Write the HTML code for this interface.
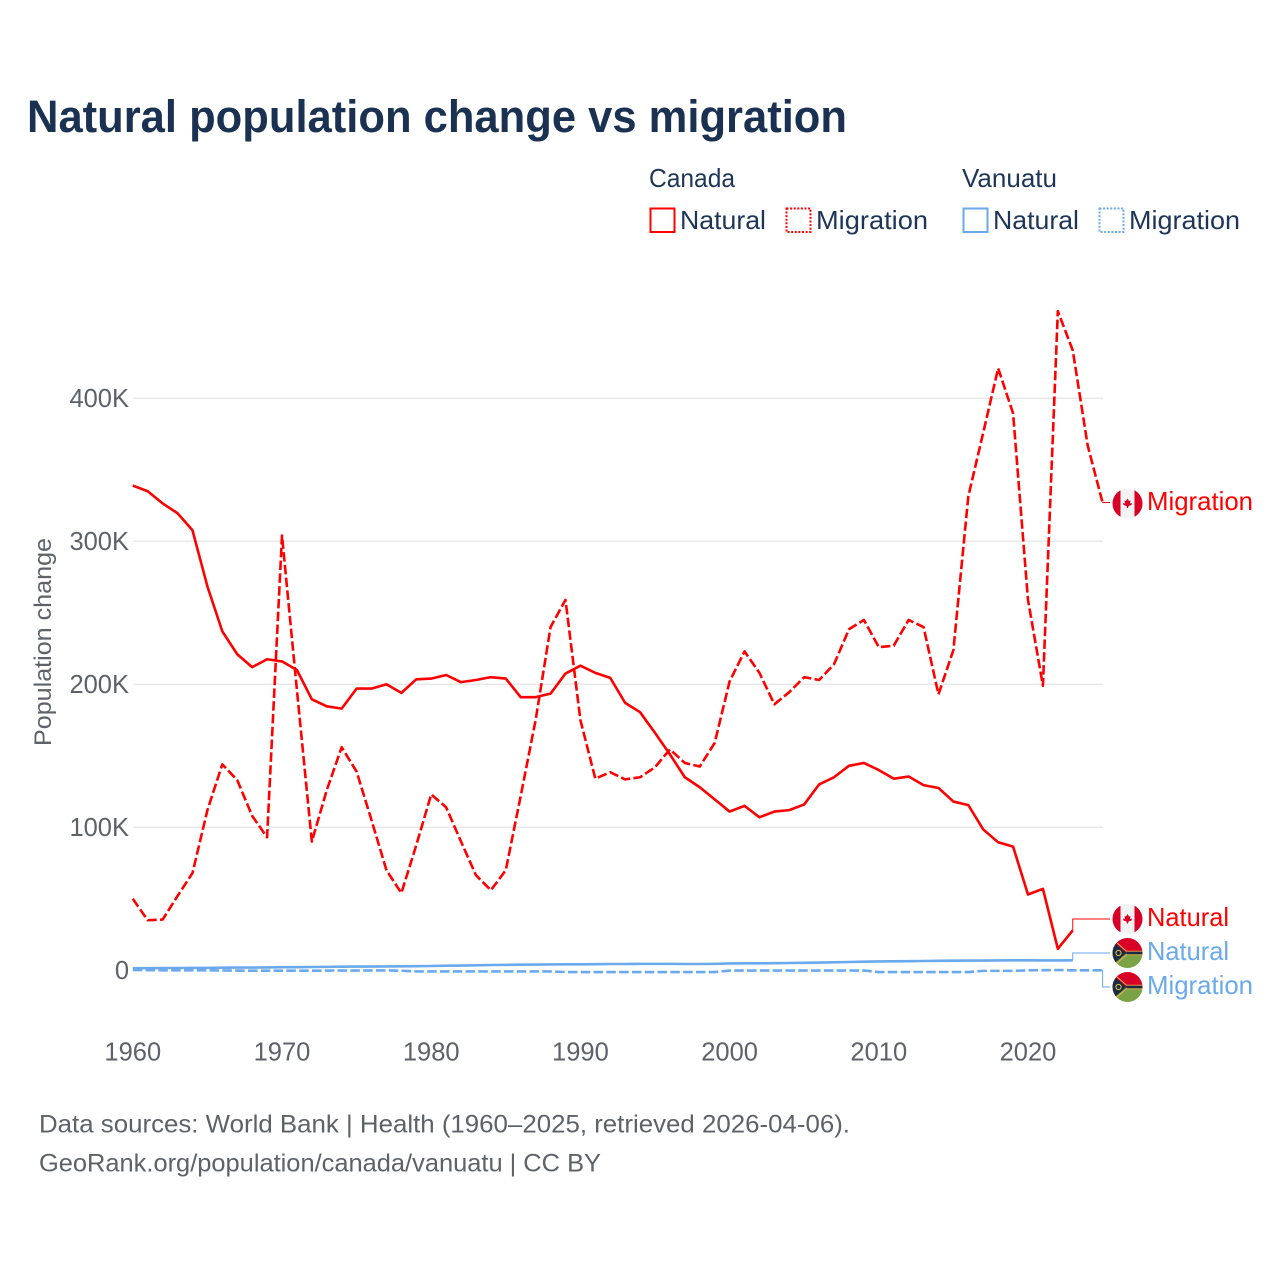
<!DOCTYPE html>
<html lang="en">
<head>
<meta charset="utf-8">
<title>Natural population change vs migration</title>
<style>
html,body{margin:0;padding:0;background:#fff;width:1280px;height:1280px;overflow:hidden}
svg{display:block}
text{font-family:"Liberation Sans",sans-serif}
</style>
</head>
<body>
<svg id="chart" xmlns="http://www.w3.org/2000/svg" width="1280" height="1280" viewBox="0 0 1280 1280">
  <defs>
    <clipPath id="flag-clip"><circle cx="0" cy="0" r="15"/></clipPath>
  </defs>
  <rect width="1280" height="1280" fill="#fff"/>
  <text x="27" y="132" font-size="45" font-weight="700" fill="#1a3152" textLength="820" lengthAdjust="spacingAndGlyphs">Natural population change vs migration</text>

  <g fill="#1d3557" font-size="26">
    <text x="649" y="187" textLength="86" lengthAdjust="spacingAndGlyphs">Canada</text>
    <text x="962" y="187" textLength="95" lengthAdjust="spacingAndGlyphs">Vanuatu</text>
    <rect x="650.5" y="208.5" width="24" height="23.5" fill="none" stroke="#ff0000" stroke-width="2"/>
    <text x="680" y="229" textLength="86" lengthAdjust="spacingAndGlyphs">Natural</text>
    <rect x="786.5" y="208.5" width="24" height="23.5" fill="none" stroke="#ff0000" stroke-width="2" stroke-dasharray="2 1.6"/>
    <text x="816" y="229" textLength="112" lengthAdjust="spacingAndGlyphs">Migration</text>
    <rect x="963.5" y="208.5" width="24" height="23.5" fill="none" stroke="#6aa9ec" stroke-width="2"/>
    <text x="993" y="229" textLength="86" lengthAdjust="spacingAndGlyphs">Natural</text>
    <rect x="1099.5" y="208.5" width="24" height="23.5" fill="none" stroke="#6aa9ec" stroke-width="2" stroke-dasharray="2 1.6"/>
    <text x="1129" y="229" textLength="111" lengthAdjust="spacingAndGlyphs">Migration</text>
  </g>

  <g id="grid"></g>
  <g id="y-ticks"></g>
  <g id="x-ticks"></g>
  <text transform="translate(51 746) rotate(-90)" font-size="24" fill="#5e6268" textLength="208" lengthAdjust="spacingAndGlyphs">Population change</text>
  <g id="series"></g>
  <g id="connectors"></g>

  <g transform="translate(1127.5 503.5)" clip-path="url(#flag-clip)">
    <rect x="-15" y="-15" width="30" height="30" fill="#f3f3f3"/><rect x="-15" y="-15" width="8" height="30" fill="#d80027"/><rect x="7" y="-15" width="8" height="30" fill="#d80027"/>
    <polygon points="0,-5 1.5,-2.5 3,-3 2.5,0 4.5,-0.5 4,1.5 1,2.5 0.5,4.5 -0.5,4.5 -1,2.5 -4,1.5 -4.5,-0.5 -2.5,0 -3,-3 -1.5,-2.5" fill="#d80027"/>
  </g>
  <g transform="translate(1127.5 919)" clip-path="url(#flag-clip)">
    <rect x="-15" y="-15" width="30" height="30" fill="#f3f3f3"/><rect x="-15" y="-15" width="8" height="30" fill="#d80027"/><rect x="7" y="-15" width="8" height="30" fill="#d80027"/>
    <polygon points="0,-5 1.5,-2.5 3,-3 2.5,0 4.5,-0.5 4,1.5 1,2.5 0.5,4.5 -0.5,4.5 -1,2.5 -4,1.5 -4.5,-0.5 -2.5,0 -3,-3 -1.5,-2.5" fill="#d80027"/>
  </g>
  <g transform="translate(1127.5 953)" clip-path="url(#flag-clip)">
    <rect x="-15" y="-15" width="30" height="15" fill="#d80027"/><rect x="-15" y="0" width="30" height="15" fill="#7aa346"/>
    <polygon points="-15,-12 -1,0 -15,12" fill="#1c2b44"/>
    <path d="M-15,-14 L-1,-1.8 L15,-1.8 M-15,14 L-1,1.8 L15,1.8" fill="none" stroke="#e8b04a" stroke-width="1"/>
    <rect x="-1" y="-1.3" width="16" height="2.6" fill="#1c2b44"/>
    <circle cx="-9" cy="0" r="2.6" fill="none" stroke="#e8c23a" stroke-width="1"/>
  </g>
  <g transform="translate(1127.5 987)" clip-path="url(#flag-clip)">
    <rect x="-15" y="-15" width="30" height="15" fill="#d80027"/><rect x="-15" y="0" width="30" height="15" fill="#7aa346"/>
    <polygon points="-15,-12 -1,0 -15,12" fill="#1c2b44"/>
    <path d="M-15,-14 L-1,-1.8 L15,-1.8 M-15,14 L-1,1.8 L15,1.8" fill="none" stroke="#e8b04a" stroke-width="1"/>
    <rect x="-1" y="-1.3" width="16" height="2.6" fill="#1c2b44"/>
    <circle cx="-9" cy="0" r="2.6" fill="none" stroke="#e8c23a" stroke-width="1"/>
  </g>

  <g font-size="26">
    <text x="1147" y="510" fill="#ff0000" textLength="106" lengthAdjust="spacingAndGlyphs">Migration</text>
    <text x="1147" y="926" fill="#ff0000" textLength="82" lengthAdjust="spacingAndGlyphs">Natural</text>
    <text x="1147" y="960" fill="#6aa9ec" textLength="82" lengthAdjust="spacingAndGlyphs">Natural</text>
    <text x="1147" y="994" fill="#6aa9ec" textLength="106" lengthAdjust="spacingAndGlyphs">Migration</text>
  </g>

  <g font-size="25" fill="#5e6268">
    <text x="39" y="1132.5" textLength="811" lengthAdjust="spacingAndGlyphs">Data sources: World Bank | Health (1960–2025, retrieved 2026-04-06).</text>
    <text x="39" y="1171.5" textLength="562" lengthAdjust="spacingAndGlyphs">GeoRank.org/population/canada/vanuatu | CC BY</text>
  </g>
</svg>
<script>
// Values in thousands, one per year starting at firstYear
const firstYear = 1960;
const yTickValues = [0, 100, 200, 300, 400];
const yTickLabels = ['0', '100K', '200K', '300K', '400K'];
const xTickYears = [1960, 1970, 1980, 1990, 2000, 2010, 2020];
const canadaNatural = [339,335,326.5,319.6,307.7,268.5,237,221,212,217.5,216,210,189.5,184.6,183,197,197,200,194,203.5,204,206.5,201.5,203,205,204,191,191,193.5,207.5,213,208,204.5,187,180.5,166,151,135,128,119.5,111,115,107,111,112,116,130,135,143,145,140,134,135.5,129.5,127.5,118,115.5,98.5,89.5,86.5,53,57,15,28];
const canadaMigration = [50,35,35.5,52,68,112,144,133,108,93,304,196,90,126,156,139,105,70,54,87.5,123,114,90,66.5,56,70,122,175,240,259,175,134,138.5,133.5,135,142,154.5,145,142.5,159,202,223,208,186,194.5,205,203,214,238.5,245,226,227,245,240,193,224,331.5,376,421,389.5,259,199,461,433.5,367,327];
const vanuatuNatural = [1.5,1.5,1.6,1.6,1.7,1.7,1.8,1.9,1.9,2.0,2.2,2.2,2.3,2.4,2.5,2.6,2.6,2.7,2.8,2.9,3.0,3.2,3.3,3.5,3.7,3.8,3.9,4.0,4.1,4.2,4.2,4.3,4.4,4.4,4.5,4.5,4.5,4.4,4.4,4.5,4.8,4.9,4.9,5.0,5.1,5.2,5.4,5.6,5.8,6.0,6.2,6.3,6.4,6.5,6.6,6.7,6.8,6.8,6.9,7.0,7.0,6.9,6.9,7.0];
const vanuatuMigration = [0.2,0.1,0,0,0,0,-0.1,-0.2,-0.3,-0.3,-0.3,-0.3,-0.3,-0.2,-0.2,-0.2,-0.1,-0.1,-0.3,-0.8,-0.8,-0.8,-0.8,-0.8,-0.8,-0.8,-0.8,-0.8,-0.8,-1.2,-1.2,-1.2,-1.2,-1.2,-1.2,-1.2,-1.2,-1.2,-1.2,-1.2,-0.2,-0.2,-0.2,-0.2,-0.2,-0.2,-0.2,-0.2,-0.2,-0.2,-1.2,-1.2,-1.2,-1.2,-1.2,-1.2,-1.2,-0.4,-0.4,-0.4,0,0.1,0.2,0,0,0];

const NS = 'http://www.w3.org/2000/svg';
function xAxis(year) { return 132.8 + (year - 1960) * 14.92; }
function yAxis(value) { return 970.3 - value * 1.43; }

function pathFor(values) {
  return values.map(function (v, i) {
    return (i ? 'L' : 'M') + xAxis(firstYear + i).toFixed(2) + ' ' + yAxis(v).toFixed(2);
  }).join(' ');
}

const gridGroup = document.getElementById('grid');
const yTickGroup = document.getElementById('y-ticks');
yTickValues.forEach(function (v, i) {
  if (v !== 0) {
    const line = document.createElementNS(NS, 'line');
    
    
    line.setAttribute('x1', 133);
    line.setAttribute('x2', 1103);
    line.setAttribute('y1', yAxis(v));
    line.setAttribute('y2', yAxis(v));
    line.setAttribute('stroke', '#e9e9e9');
    line.setAttribute('stroke-width', '1.5');
    gridGroup.appendChild(line);
  }
  const label = document.createElementNS(NS, 'text');
  
  
  label.setAttribute('x', 129);
  label.setAttribute('y', yAxis(v) + 8.5);
  label.setAttribute('text-anchor', 'end');
  label.setAttribute('font-size', '25.5');
  label.setAttribute('fill', '#5e6268');
  label.textContent = yTickLabels[i];
  yTickGroup.appendChild(label);
});

const xTickGroup = document.getElementById('x-ticks');
xTickYears.forEach(function (year) {
  const label = document.createElementNS(NS, 'text');
  
  
  label.setAttribute('x', xAxis(year));
  label.setAttribute('y', 1060.5);
  label.setAttribute('text-anchor', 'middle');
  label.setAttribute('font-size', '25.5');
  label.setAttribute('fill', '#5e6268');
  label.textContent = String(year);
  xTickGroup.appendChild(label);
});

const seriesGroup = document.getElementById('series');
function drawSeries(values, name, color, dashed) {
  const p = document.createElementNS(NS, 'path');
  
  
  p.setAttribute('d', pathFor(values));
  p.setAttribute('fill', 'none');
  p.setAttribute('stroke', color);
  p.setAttribute('stroke-width', '2.6');
  p.setAttribute('stroke-linejoin', 'round');
  if (dashed) p.setAttribute('stroke-dasharray', '9.5 3.3');
  seriesGroup.appendChild(p);
}
drawSeries(vanuatuMigration, 'line-vanuatu-migration', '#6aa9ec', true);
drawSeries(vanuatuNatural, 'line-vanuatu-natural', '#6aa9ec', false);
drawSeries(canadaMigration, 'line-canada-migration', '#ff0000', true);
drawSeries(canadaNatural, 'line-canada-natural', '#ff0000', false);

const connectorGroup = document.getElementById('connectors');
function drawConnector(values, name, color, labelY) {
  const lastX = xAxis(firstYear + values.length - 1);
  const lastY = yAxis(values[values.length - 1]);
  const c = document.createElementNS(NS, 'path');
  
  
  c.setAttribute('d', 'M' + lastX + ' ' + lastY + ' H' + lastX + ' V' + labelY + ' H1110');
  c.setAttribute('fill', 'none');
  c.setAttribute('stroke', color);
  c.setAttribute('stroke-width', '1');
  connectorGroup.appendChild(c);
}
drawConnector(canadaMigration, 'connector-canada-migration', '#ff0000', 502.5);
drawConnector(canadaNatural, 'connector-canada-natural', '#ff0000', 919);
drawConnector(vanuatuNatural, 'connector-vanuatu-natural', '#6aa9ec', 953);
drawConnector(vanuatuMigration, 'connector-vanuatu-migration', '#6aa9ec', 987);
</script>
</body>
</html>
